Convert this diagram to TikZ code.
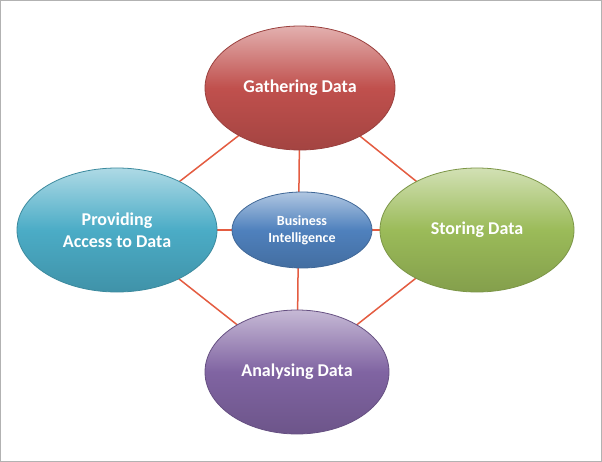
\documentclass[tikz,border=0pt]{standalone}
\usepackage{fontspec}
\setmainfont{Carlito}
\usetikzlibrary{shapes.geometric}
\begin{document}
\begin{tikzpicture}[x=1pt,y=-1pt,
  el/.style={ellipse,draw=#1!80!black,line width=0.8pt,top color=#1!45!white,bottom color=#1!85!black,middle color=#1,
    text=white,font=\bfseries\fontsize{18}{22}\selectfont,align=center,inner sep=0pt},
  ln/.style={draw=red!50!brown!85!white,line width=1.5pt}]
\definecolor{cr}{HTML}{C0504D}
\definecolor{cg}{HTML}{9BBB59}
\definecolor{cp}{HTML}{8064A2}
\definecolor{cb}{HTML}{4BACC6}
\definecolor{cc}{HTML}{4F81BD}
\draw[gray!60,line width=0.6pt,fill=white] (0.5,0.5) rectangle (601.5,461.5);
\useasboundingbox (0,0) rectangle (602,462);
\coordinate (g) at (300,88);
\coordinate (s) at (477,230);
\coordinate (a) at (297,372);
\coordinate (p) at (117,230);
\coordinate (c) at (302,230);
\draw[ln] (g) -- (s) -- (a) -- (p) -- (g);
\draw[ln] (g) -- (a);
\draw[ln] (p) -- (s);
\node[el=cr,minimum width=190,minimum height=124] (G) at (g) {Gathering Data};
\node[el=cg,minimum width=194,minimum height=124] (S) at (s) {Storing Data};
\node[el=cp,minimum width=184,minimum height=124] (A) at (a) {Analysing Data};
\node[el=cb,minimum width=200,minimum height=124] (P) at (p) {Providing\\Access to Data};
\node[el=cc,minimum width=140,minimum height=76,font=\bfseries\fontsize{14}{17}\selectfont] (C) at (c) {Business\\Intelligence};
\end{tikzpicture}
\end{document}
